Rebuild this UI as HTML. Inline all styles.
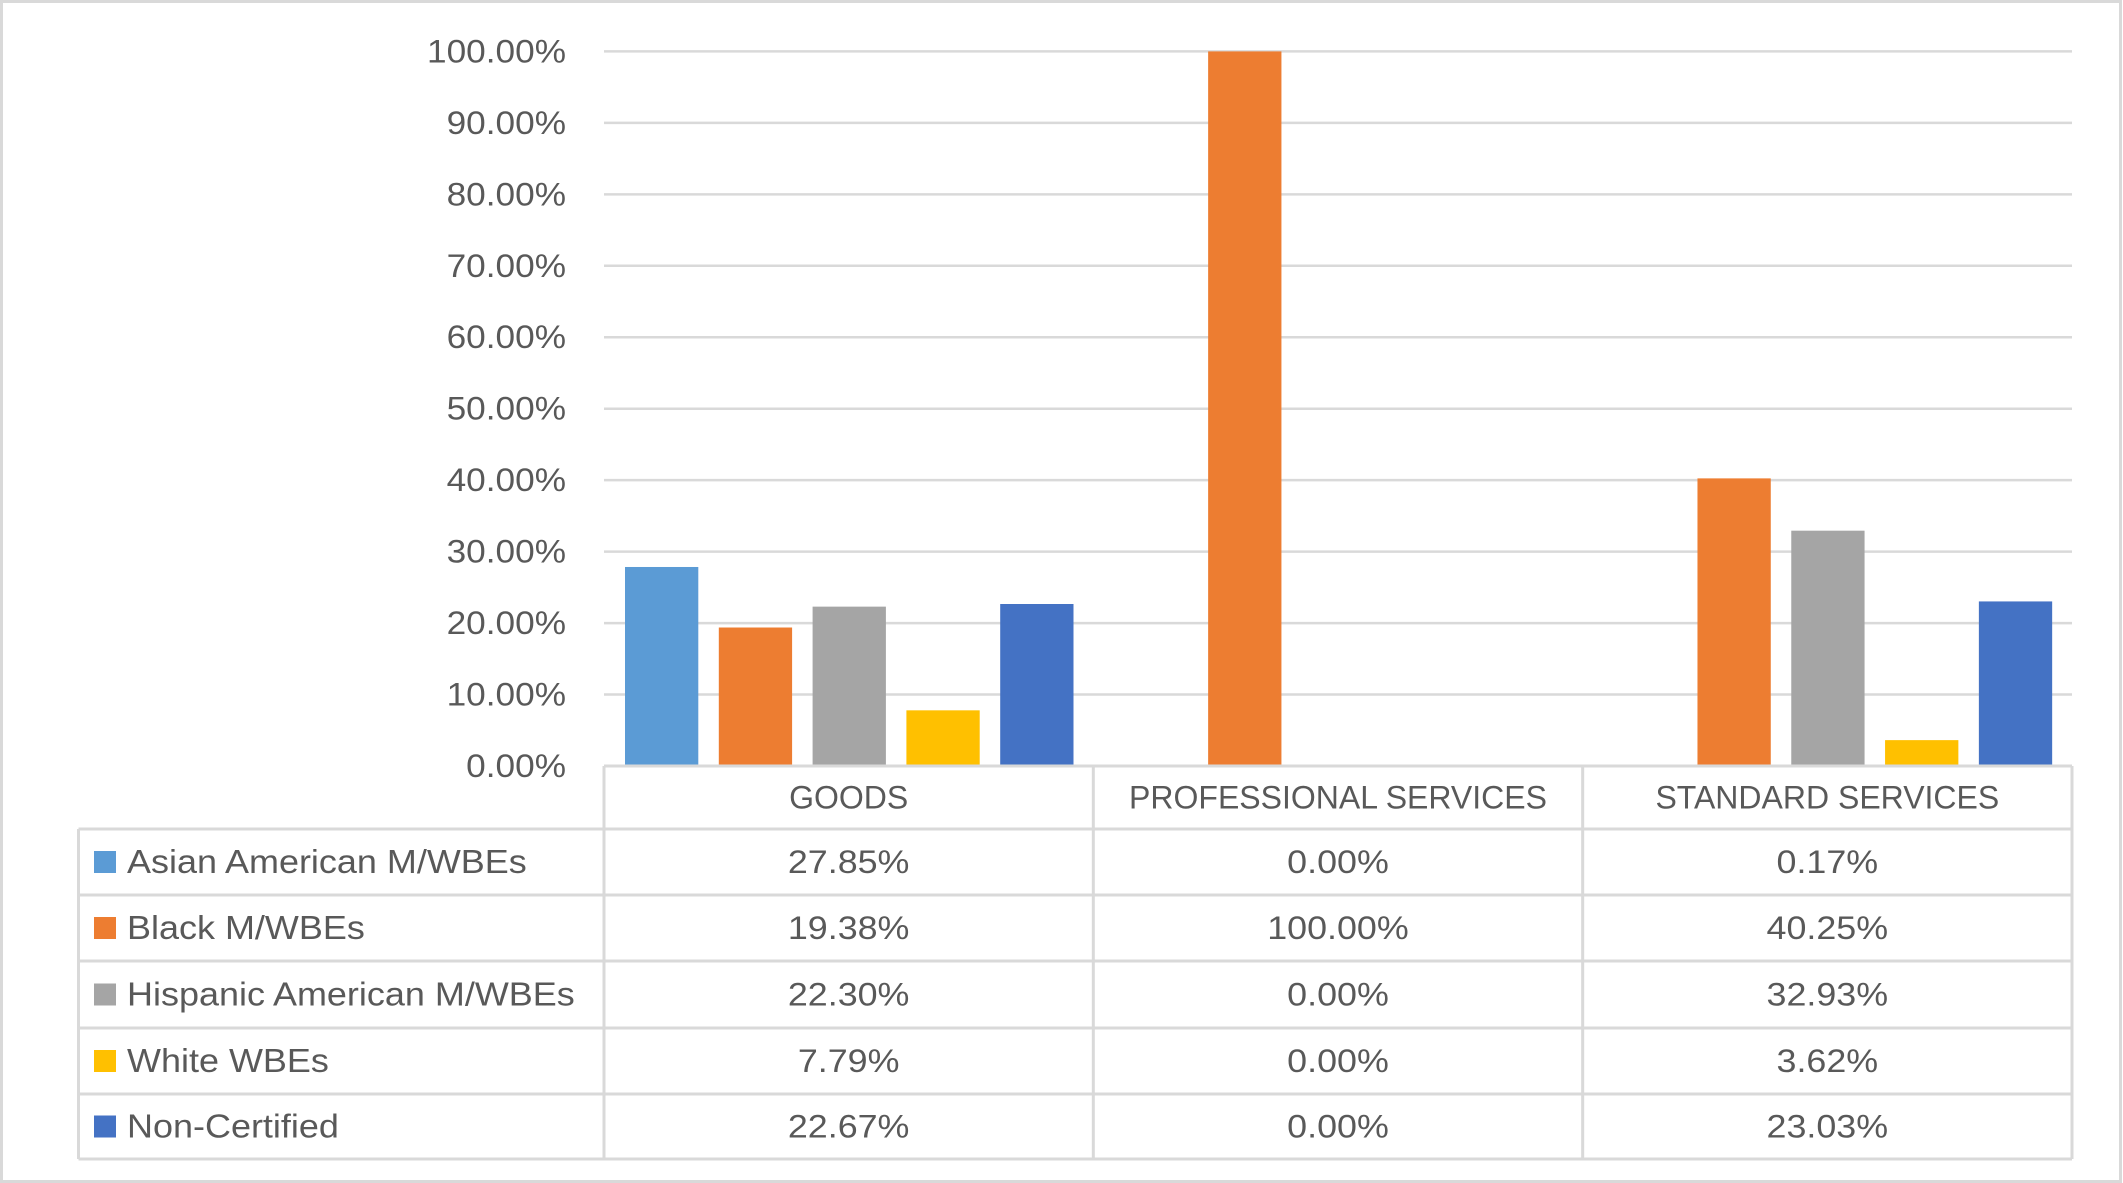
<!DOCTYPE html>
<html><head><meta charset="utf-8"><style>
html,body{margin:0;padding:0;background:#fff;}
svg{display:block;font-family:"Liberation Sans",sans-serif;}
</style></head><body>
<svg id="chart" width="2123" height="1183" viewBox="0 0 2123 1183">
<rect x="1.5" y="1.5" width="2119" height="1180" fill="#fff" stroke="#d9d9d9" stroke-width="3"/>
<g id="grid"></g><g id="bars"></g><g id="table"></g>
</svg>
<script>
const categories = ["GOODS","PROFESSIONAL SERVICES","STANDARD SERVICES"];
const seriesNames = ["Asian American M/WBEs","Black M/WBEs","Hispanic American M/WBEs","White WBEs","Non-Certified"];
const seriesColors = ["#5b9bd5","#ed7d31","#a5a5a5","#ffc000","#4472c4"];
const asian = [27.85, 0.00, 0.17];
const black = [19.38, 100.00, 40.25];
const hispanic = [22.30, 0.00, 32.93];
const white = [7.79, 0.00, 3.62];
const nonCert = [22.67, 0.00, 23.03];
const tickValues = [0,10,20,30,40,50,60,70,80,90,100];

const series = [asian, black, hispanic, white, nonCert];
const NS = "http://www.w3.org/2000/svg";
const X0 = 604, X1 = 2072, Y0 = 766, Y100 = 51.4;
const groupW = (X1 - X0) / categories.length;
const barW = 73.3, step = 93.8, off = 21;
const yScale = v => Y0 - v / 100 * (Y0 - Y100);
const xBar = (c, s) => X0 + c * groupW + off + s * step;
function el(tag, attrs, parent){const e=document.createElementNS(NS,tag);for(const k in attrs)e.setAttribute(k,attrs[k]);parent.appendChild(e);return e;}
function fit(t, f){const w=t.getComputedTextLength();t.setAttribute('textLength',w*f);t.setAttribute('lengthAdjust','spacingAndGlyphs');}
const grid = document.getElementById('grid'), barsG = document.getElementById('bars'), tbl = document.getElementById('table');
const txt = "#595959";

tickValues.forEach(t => {
  const y = yScale(t);
  if (t > 0) {
    const l = el('line',{x1:X0,x2:X1,y1:y,y2:y,stroke:'#d9d9d9','stroke-width':2.5},grid);
    
    
  }
  const lb = el('text',{x:566,y:y+11,'text-anchor':'end','font-size':32,fill:txt},grid);
  lb.textContent = t.toFixed(2) + '%';
  
  
  fit(lb, 1.1);
});

series.forEach((vals, s) => {
  vals.forEach((v, c) => {
    const y = yScale(v);
    const r = el('rect',{x:xBar(c,s),y:y,width:barW,height:Y0-y,fill:seriesColors[s]},barsG);
    
    
  });
});

const rowY = [766, 829, 895, 961, 1028, 1094, 1159];
const colX = [78.5, X0, X0+groupW, X0+2*groupW, X1];
const lc = '#d9d9d9';
[1,2,3,4].forEach(i => { const l = el('line',{x1:colX[i],x2:colX[i],y1:rowY[0],y2:rowY[6],stroke:lc,'stroke-width':3},tbl);
    });
{ const l = el('line',{x1:colX[0],x2:colX[0],y1:rowY[1],y2:rowY[6],stroke:lc,'stroke-width':3},tbl);
    }
{ const l = el('line',{x1:colX[1],x2:colX[4],y1:rowY[0],y2:rowY[0],stroke:lc,'stroke-width':3},tbl);
    }
for (let r = 1; r <= 6; r++) { const l = el('line',{x1:colX[0],x2:colX[4],y1:rowY[r],y2:rowY[r],stroke:lc,'stroke-width':3},tbl);
    }
categories.forEach((c, i) => {
  const t = el('text',{x:(colX[i+1]+colX[i+2])/2,y:(rowY[0]+rowY[1])/2+11,'text-anchor':'middle','font-size':32,fill:txt},tbl);
  t.textContent = c;
  
  
  fit(t, 1.0);
});
seriesNames.forEach((n, s) => {
  const cy = (rowY[s+1]+rowY[s+2])/2;
  const sw = el('rect',{x:94,y:cy-11,width:22,height:22,fill:seriesColors[s]},tbl);
  
  
  const t = el('text',{x:127,y:cy+11,'font-size':33,fill:txt},tbl);
  t.textContent = n;
  
  
  fit(t, 1.09);
  series[s].forEach((v, c) => {
    const tv = el('text',{x:(colX[c+1]+colX[c+2])/2,y:cy+11,'text-anchor':'middle','font-size':32,fill:txt},tbl);
    tv.textContent = v.toFixed(2) + '%';
    
    
    fit(tv, 1.12);
  });
});
</script>
</body></html>
